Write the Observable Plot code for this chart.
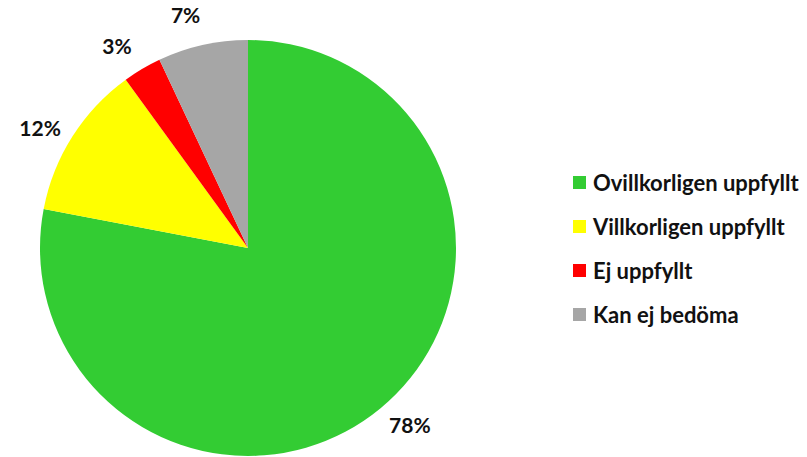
<!DOCTYPE html>
<html>
<head>
<meta charset="utf-8">
<script src="https://cdn.jsdelivr.net/npm/d3@7"></script>
<script src="https://cdn.jsdelivr.net/npm/@observablehq/plot@0.6"></script>
<style>
  html, body { margin: 0; padding: 0; background: #fff; }
  #wrap { position: relative; width: 807px; height: 457px; overflow: hidden; }
  #legend { position: absolute; left: 573px; top: 160px; font-family: Lato, sans-serif; font-weight: bold; font-size: 22px; color: #111; }
  .item { display: flex; align-items: center; height: 44px; white-space: nowrap; }
  .sw { width: 13px; height: 13px; margin-right: 7px; flex: none; }
</style>
</head>
<body>
<div id="wrap"></div>
<script>
const categories = ["Ovillkorligen uppfyllt", "Villkorligen uppfyllt", "Ej uppfyllt", "Kan ej bedöma"];
const values = [78, 12, 3, 7];
const colors = ["#33CC33", "#FFFF00", "#FF0000", "#A6A6A6"];
const labels = ["78%", "12%", "3%", "7%"];

const data = categories.map((c, i) => ({category: c, value: values[i], color: colors[i], label: labels[i]}));
const arcs = d3.pie().sort(null).value(d => d.value)(data);
const labelR = 1.155;
const labelShift = -0.045;
const labelData = arcs.map(a => {
  const mid = (a.startAngle + a.endAngle) / 2 + labelShift;
  return {x: labelR * Math.sin(mid), y: labelR * Math.cos(mid), label: a.data.label};
});

function pieMark(index, scales) {
  const cx = scales.x(0), cy = scales.y(0);
  const r = scales.x(1) - scales.x(0);
  const arc = d3.arc().innerRadius(0).outerRadius(r);
  const g = d3.create("svg:g").attr("transform", `translate(${cx},${cy})`);
  g.selectAll("path").data(arcs).join("path")
    .attr("d", arc)
    .attr("fill", d => d.data.color);
  return g.node();
}

const chart = Plot.plot({
  width: 807,
  height: 457,
  margin: 0,
  x: {domain: [-1, 1], range: [40, 456], axis: null},
  y: {domain: [-1, 1], range: [456, 40], axis: null},
  style: {fontFamily: "Lato, sans-serif", fontSize: "22px", fontWeight: "bold", background: "#fff"},
  marks: [
    pieMark,
    Plot.text(labelData, {x: "x", y: "y", text: "label", fill: "#111", fontSize: 21, fontWeight: "bold"})
  ]
});
chart.style.position = "absolute";
chart.style.left = "0";
chart.style.top = "0";
const wrap = document.getElementById("wrap");
wrap.appendChild(chart);

const legend = document.createElement("div");
legend.id = "legend";
data.forEach(d => {
  const item = document.createElement("div");
  item.className = "item";
  const sw = document.createElement("span");
  sw.className = "sw";
  sw.style.background = d.color;
  const t = document.createElement("span");
  t.textContent = d.category;
  item.appendChild(sw);
  item.appendChild(t);
  legend.appendChild(item);
});
wrap.appendChild(legend);
</script>
</body>
</html>
